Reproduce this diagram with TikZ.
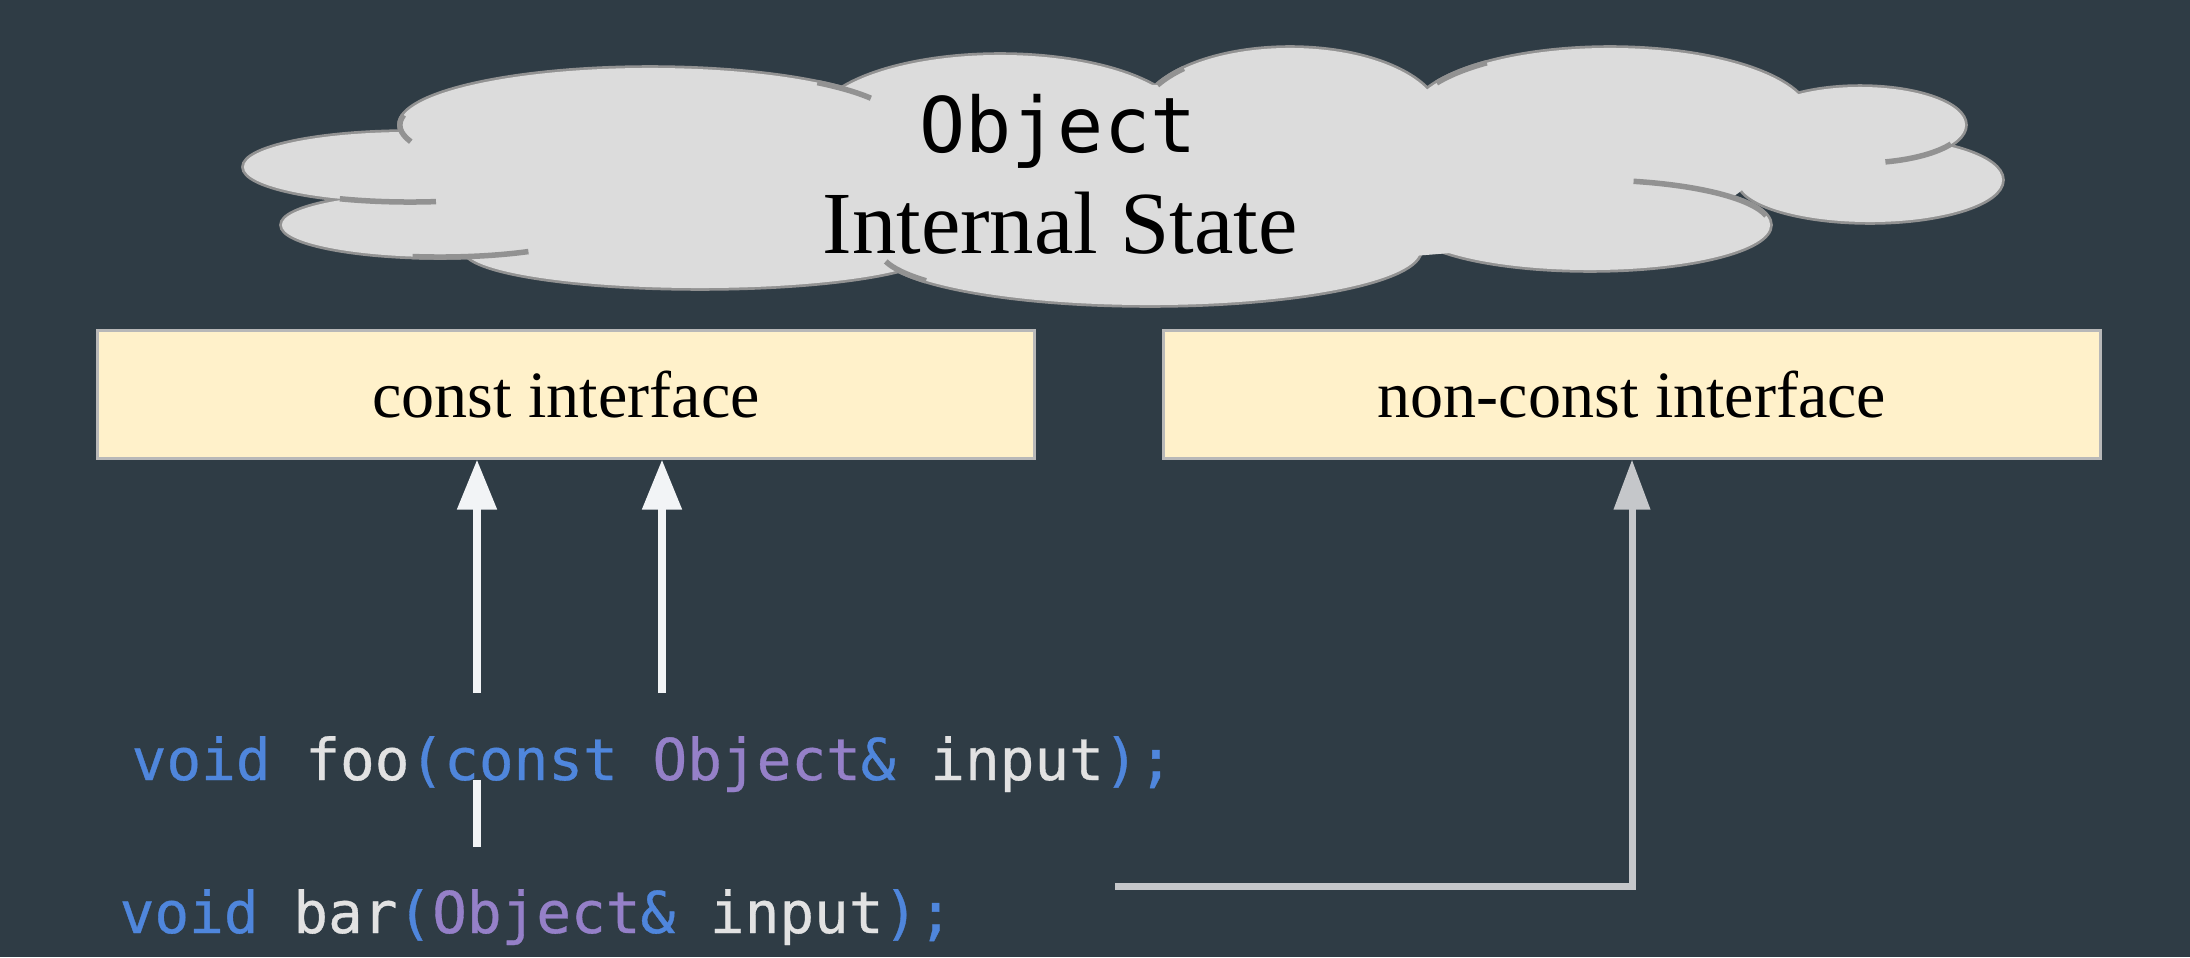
\documentclass[tikz,border=0pt]{standalone}
\usepackage{fontspec}
\setmainfont{Liberation Serif}
\newfontfamily\codefont[FakeBold=0.6]{DejaVu Sans Mono}
\newfontfamily\objfont{DejaVu Sans Mono}
\usetikzlibrary{arrows.meta}
\definecolor{bg}{HTML}{2F3C45}
\definecolor{cloudfill}{HTML}{DCDCDC}
\definecolor{cloudline}{HTML}{929292}
\definecolor{boxfill}{HTML}{FFF1CA}
\definecolor{boxline}{HTML}{B8B8B8}
\definecolor{kwblue}{HTML}{4F86DC}
\definecolor{typepurple}{HTML}{9580C8}
\definecolor{codewhite}{HTML}{E2E2E2}
\definecolor{arrowwhite}{HTML}{F2F4F6}
\definecolor{arrowgray}{HTML}{C5C7CA}
\tikzset{
  ifacebox/.style={draw=boxline, line width=0.03cm, fill=boxfill,
    minimum width=9.36cm, minimum height=1.27cm, inner sep=0pt,
    font=\fontsize{18.8}{22}\selectfont},
  codeline/.style={anchor=base west, inner sep=0pt,
    font=\codefont\fontsize{16.4}{20}\selectfont},
  whitearrow/.style={draw=arrowwhite, line width=0.08cm,
    -{Triangle[width=0.38cm,length=0.5cm]}},
  whiteline/.style={draw=arrowwhite, line width=0.08cm},
  grayarrow/.style={draw=arrowgray, line width=0.07cm,
    -{Triangle[width=0.35cm,length=0.5cm]}},
  cloudedge/.style={draw=cloudline, line width=0.055cm},
}
\newcommand{\kw}[1]{\textcolor{kwblue}{#1}}
\newcommand{\ty}[1]{\textcolor{typepurple}{#1}}
\newcommand{\pl}[1]{\textcolor{codewhite}{#1}}
\newcommand{\lobearc}[6]{% cx, cy, rx(cm), ry(cm), start, end
  \draw[cloudedge] (#1,#2) ++(#5:#3cm and #4cm) arc[start angle=#5, end angle=#6, x radius=#3cm, y radius=#4cm];}
\begin{document}
\begin{tikzpicture}[x=0.01cm,y=-0.01cm]
\fill[bg] (0,0) rectangle (2190,957);
\useasboundingbox (0,0) rectangle (2190,957);

% cloud: outlines of all lobes, then fill to keep only the outer edge
\foreach \cx/\cy/\rx/\ry in {410/167/1.66/0.35, 650/125/2.50/0.57, 440/225/1.58/0.32,
  700/250/2.35/0.38, 1000/125/1.85/0.70, 1290/118/1.50/0.70, 1610/118/2.00/0.70,
  1860/125/1.05/0.38, 1870/180/1.32/0.42, 1590/225/1.80/0.45, 1150/250/2.70/0.55}
  \draw[cloudedge] (\cx,\cy) ellipse [x radius=\rx cm, y radius=\ry cm];
\foreach \cx/\cy/\rx/\ry in {410/167/1.66/0.35, 650/125/2.50/0.57, 440/225/1.58/0.32,
  700/250/2.35/0.38, 1000/125/1.85/0.70, 1290/118/1.50/0.70, 1610/118/2.00/0.70,
  1860/125/1.05/0.38, 1870/180/1.32/0.42, 1590/225/1.80/0.45, 1150/250/2.70/0.55,
  1150/175/6.00/0.90, 600/175/2.2/0.55}
  \fill[cloudfill] (\cx,\cy) ellipse [x radius=\rx cm, y radius=\ry cm];
% interior lobe arcs
\lobearc{410}{167}{1.66}{0.35}{245}{279}
\lobearc{650}{125}{2.50}{0.57}{170}{197}
\lobearc{650}{125}{2.50}{0.57}{48}{28}
\lobearc{440}{225}{1.58}{0.32}{260}{304}
\lobearc{1150}{250}{2.70}{0.55}{192}{214}
\lobearc{1290}{118}{1.50}{0.70}{135}{152}
\lobearc{1610}{118}{2.00}{0.70}{128}{150}
\lobearc{1860}{125}{1.05}{0.38}{284}{330}
\lobearc{1590}{225}{1.80}{0.45}{76}{12}

\node[anchor=base, inner sep=0pt, font=\objfont\fontsize{21.8}{26}\selectfont] (objname) at (1058,152) {Object};
\node[anchor=base, inner sep=0pt, font=\fontsize{25.2}{30}\selectfont] (objstate) at (1060,253) {Internal State};

% interface boxes
\node[ifacebox] (cbox) at (566,394.5) {const interface};
\node[ifacebox] (nbox) at (1632,394.5) {non-const interface};

% code
\node[codeline] (foo) at (131,780) {\kw{void} \pl{foo}\kw{(const} \ty{Object}\kw{\&} \pl{input}\kw{);}};
\node[codeline] (bar) at (119,933) {\kw{void} \pl{bar}\kw{(}\ty{Object}\kw{\&} \pl{input}\kw{);}};

% connectors
\coordinate (a1) at (477,693);
\coordinate (a2) at (662,693);
\coordinate (s1) at (477,780);
\coordinate (s2) at (477,847);
\coordinate (b1) at (1115,886);
\coordinate (b2) at (1632,886);
\draw[whitearrow] (a1) -- (a1 |- cbox.south);
\draw[whitearrow] (a2) -- (a2 |- cbox.south);
\draw[whiteline] (s1) -- (s2);
\draw[grayarrow] (b1) -- (b2) -- (b2 |- nbox.south);
\end{tikzpicture}
\end{document}
